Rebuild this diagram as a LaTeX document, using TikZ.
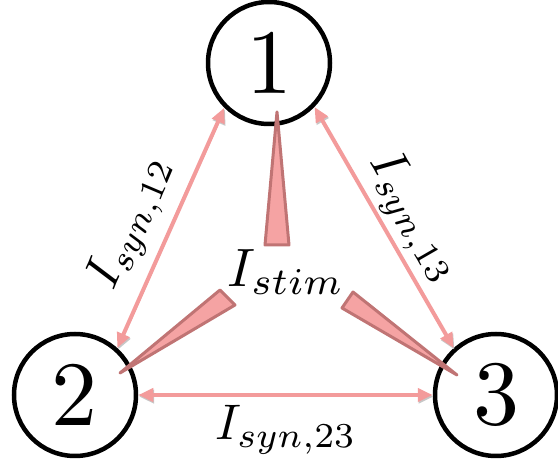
\documentclass[tikz,border=0pt]{standalone}
\usetikzlibrary{arrows.meta}
\definecolor{synpink}{HTML}{F39B9B}
\definecolor{stimfill}{HTML}{F5A3A3}
\definecolor{stimedge}{HTML}{C07474}
\tikzset{
  neuron/.style={circle, draw=black, line width=4.5pt, minimum size=122pt, inner sep=0pt},
  digit/.style={scale=9.2},
  syn/.style={draw=synpink, line width=4pt,
    {Triangle[length=15pt,width=13pt]}-{Triangle[length=15pt,width=13pt]},
    preaction={draw=black!22, transform canvas={shift={(0.8pt,-1.6pt)}}}},
  stim/.style={fill=stimfill, draw=stimedge, line width=3pt, line join=round},
  lbl/.style={scale=5, inner sep=0pt}
}
\begin{document}
\begin{tikzpicture}[x=1pt,y=-1pt]
\useasboundingbox (0,0) rectangle (558,465);
% neurons
\node[neuron] (c1) at (269,63) {};
\node[neuron] (c2) at (75,395) {};
\node[neuron] (c3) at (496,395) {};
\node[digit] (n1) at (c1) {1};
\node[digit] (n2) at (c2) {2};
\node[digit] (n3) at (c3) {3};
% synaptic currents
\draw[syn] (c1.225) -- (c2.48);
\draw[syn] (c1.316) -- (c3.132);
\draw[syn] (c2.east) -- (c3.west);
% stimulus wedges
\coordinate (t1) at (277,112);
\coordinate (t2) at (120,373);
\coordinate (t3) at (457,375);
\draw[stim] (t1) -- (265,245) -- (289,245) -- cycle;
\draw[stim] (t2) -- (220,290) -- (235,305) -- cycle;
\draw[stim] (t3) -- (342,308) -- (353,292) -- cycle;
% labels
\node[lbl, scale=1.08] (ls) at (286,272) {$I_{stim}$};
\node[lbl, rotate=67] (l12) at (132,223) {$I_{syn,12}$};
\node[lbl, rotate=-60] (l13) at (413,218) {$I_{syn,13}$};
\node[lbl] (l23) at (286,430) {$I_{syn,23}$};
\end{tikzpicture}
\end{document}
